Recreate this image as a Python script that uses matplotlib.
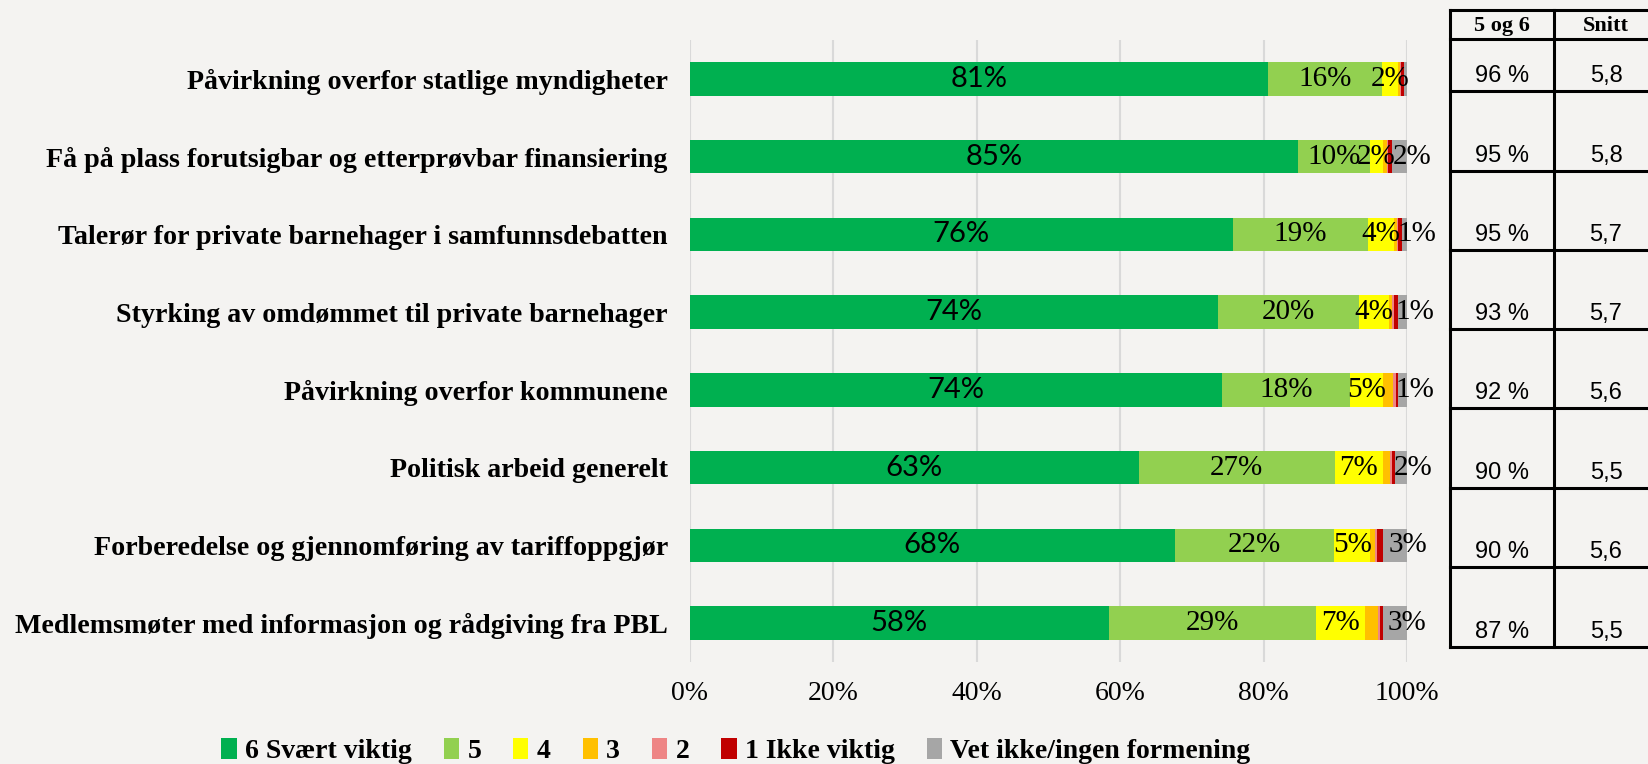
import numpy as np
import matplotlib
matplotlib.use("Agg")
import matplotlib.pyplot as plt
from matplotlib.patches import Patch

# --- data -------------------------------------------------------------
categories = [
    "Påvirkning overfor statlige myndigheter",
    "Få på plass forutsigbar og etterprøvbar finansiering",
    "Talerør for private barnehager i samfunnsdebatten",
    "Styrking av omdømmet til private barnehager",
    "Påvirkning overfor kommunene",
    "Politisk arbeid generelt",
    "Forberedelse og gjennomføring av tariffoppgjør",
    "Medlemsmøter med informasjon og rådgiving fra PBL",
]
series_names = ["6 Svært viktig", "5", "4", "3", "2", "1 Ikke viktig",
                "Vet ikke/ingen formening"]
s6 = [80.6, 84.8, 75.7, 73.6, 74.2, 62.6, 67.6, 58.4]
s5 = [15.9, 10.0, 18.9, 19.7, 17.9, 27.3, 22.2, 28.9]
s4 = [2.2, 1.8, 3.6, 4.2, 4.6, 6.7, 5.1, 6.9]
s3 = [0.3, 0.6, 0.4, 0.4, 1.4, 1.0, 0.6, 1.7]
s2 = [0.1, 0.2, 0.2, 0.3, 0.3, 0.3, 0.3, 0.4]
s1 = [0.5, 0.5, 0.5, 0.5, 0.3, 0.4, 0.9, 0.3]
s_vet = [0.4, 2.2, 0.8, 1.3, 1.3, 1.8, 3.3, 3.4]
andel_5_6 = ["96 %", "95 %", "95 %", "93 %", "92 %", "90 %", "90 %", "87 %"]
snitt = ["5,8", "5,8", "5,7", "5,7", "5,6", "5,5", "5,6", "5,5"]
table_header = ["5 og 6", "Snitt"]

colors = ["#00B050", "#92D050", "#FFFF00", "#FFC000", "#EE8585", "#C00000", "#A6A6A6"]
labelled = [True, True, True, False, False, False, True]

BG = "#F4F3F1"
W, H = 1648, 764
serif = "Liberation Serif"

fig = plt.figure(figsize=(W / 100, H / 100), dpi=100, facecolor=BG)

# main chart area in pixel coordinates
x0, x1, y0, y1 = 690, 1407, 40, 662
ax = fig.add_axes([x0 / W, 1 - y1 / H, (x1 - x0) / W, (y1 - y0) / H])
ax.set_facecolor(BG)

y = np.arange(len(categories))
left = np.zeros(len(categories))
all_series = [s6, s5, s4, s3, s2, s1, s_vet]
for vals, name, col, lab in zip(all_series, series_names, colors, labelled):
    vals = np.array(vals)
    bars = ax.barh(y, vals, left=left, height=0.43, color=col, label=name)
    if lab:
        texts = [f"{v:.0f}%" if v >= 0.5 else "" for v in vals]
        fam = "Lato" if name.startswith("6") else serif
        anns = ax.bar_label(bars, labels=texts, label_type="center",
                            fontsize=21, family=fam, color="black")
        if name.startswith("Vet"):
            # grey labels sit a bit to the right of the thin end segment
            for a in anns:
                a.xyann = (9, 0)
    left += vals

ax.set_xlim(0, 100)
ax.set_ylim(len(categories) - 0.5, -0.5)
ax.set_xticks(np.arange(0, 101, 20))
ax.set_xticklabels([f"{t}%" for t in range(0, 101, 20)], family=serif, fontsize=20)
ax.set_yticks(y)
ax.set_yticklabels(categories, family=serif, fontweight="bold", fontsize=20.2)
ax.tick_params(axis="x", length=0, pad=14)
ax.tick_params(axis="y", length=0, pad=16)
ax.xaxis.grid(True, color="#D9D9D9", lw=1.5)
ax.set_axisbelow(True)
for sp in ax.spines.values():
    sp.set_visible(False)

# --- side table -------------------------------------------------------
tax = fig.add_axes([0, 0, 1, 1])
tax.set_xlim(0, W)
tax.set_ylim(H, 0)
tax.axis("off")
row_lines = [10, 39, 90.7, 171, 250, 329.3, 408.3, 487.7, 567.3, 646.7]
col_l, col_m, col_r = 1450, 1554, 1660
for yl in row_lines:
    tax.plot([col_l, col_r], [yl, yl], color="black", lw=2.2, clip_on=False)
for xl in (col_l, col_m):
    tax.plot([xl, xl], [row_lines[0], row_lines[-1]], color="black", lw=2.2)

tax.text((col_l + col_m) / 2, 26, table_header[0], ha="center", va="center",
         family=serif, fontweight="bold", fontsize=16)
tax.text(1606, 26, table_header[1], ha="center", va="center",
         family=serif, fontweight="bold", fontsize=16)
for i, (a, s) in enumerate(zip(andel_5_6, snitt)):
    yb = row_lines[i + 2] - 4
    tax.text((col_l + col_m) / 2, yb, a, ha="center", va="bottom",
             family="Liberation Sans", fontsize=17)
    tax.text(1606, yb, s, ha="center", va="bottom",
             family="Liberation Sans", fontsize=17)

# --- legend -----------------------------------------------------------
handles = [Patch(facecolor=c, edgecolor="none") for c in colors]
fig.legend(handles, series_names, ncol=7, loc="center",
           bbox_to_anchor=(736 / W, 1 - 751 / H), frameon=False,
           prop={"family": serif, "weight": "bold", "size": 20},
           handlelength=0.55, handleheight=0.8, handletextpad=0.3,
           columnspacing=1.15, borderaxespad=0)

fig.savefig("out.png", dpi=100, facecolor=BG)
